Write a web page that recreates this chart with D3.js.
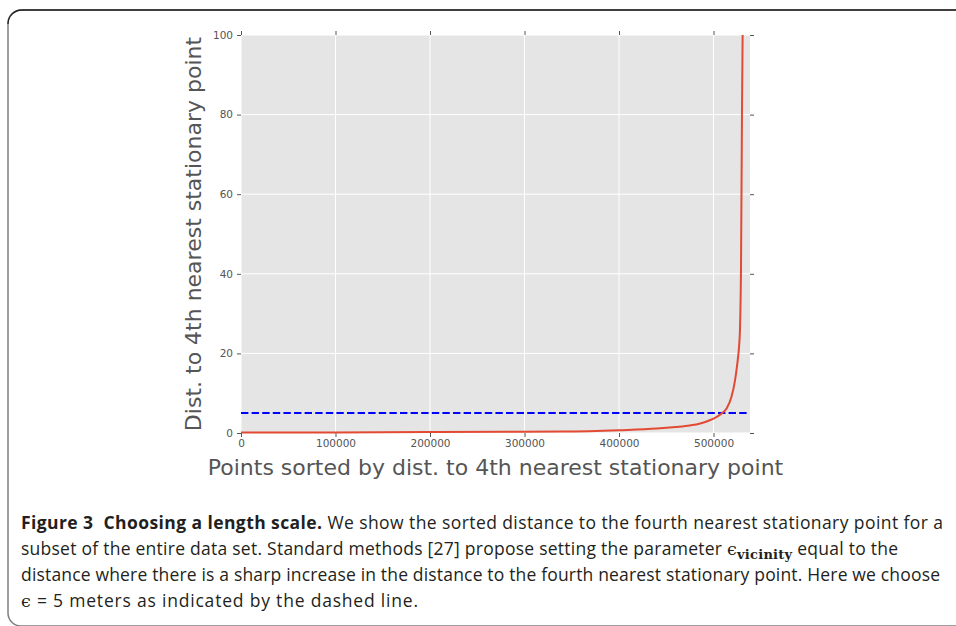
<!DOCTYPE html>
<html>
<head>
<meta charset="utf-8">
<script src="https://cdn.jsdelivr.net/npm/d3@7"></script>
<style>
  body { margin: 0; background: #fff; }
  svg { display: block; }
  .tick-label { font-family: "DejaVu Sans", sans-serif; font-size: 10.5px; fill: #555; }
  .axis-title { font-family: "DejaVu Sans", sans-serif; font-size: 22px; fill: #555; }
  .caption { font-family: "Open Sans", sans-serif; font-size: 17.5px; fill: #231f20; }
</style>
</head>
<body>
<div id="chart"></div>
<script>
// Sorted distance to the 4th nearest stationary point
var pointIndex = [0, 100000, 200000, 300000, 340000, 400000, 440000, 460000,
  475000, 486000, 496000, 503000, 508000, 514000, 519000, 522800, 525200,
  527000, 528000, 529100, 530100, 530800];
var distance = [0.1, 0.15, 0.22, 0.3, 0.35, 0.7, 1.1, 1.5,
  1.9, 2.4, 3.2, 4.0, 4.8, 6.2, 9.1, 13.3, 17.5,
  21.7, 26, 42, 80, 100];

// Chosen length scale (dashed line)
var epsilon = 5;

// Tick values for both axes
var xTicks = [0, 100000, 200000, 300000, 400000, 500000];
var yTicks = [0, 20, 40, 60, 80, 100];

var width = 956,
  height = 626;

// Plot box inside the page
var margin = { top: 35, left: 241 },
  plotW = 509,
  plotH = 398;

var svg = d3.select("#chart")
  .append("svg")
  .attr("width", width)
  .attr("height", height);

// Rounded frame around the figure
svg.append("rect")
  .attr("x", 8)
  .attr("y", 10)
  .attr("width", 980)
  .attr("height", 616)
  .attr("rx", 13)
  .attr("fill", "none")
  .attr("stroke", "#808080")
  .attr("stroke-width", 1.5);
svg.append("path")
  .attr("d", "M8,24 A14,14 0 0 1 22,10 L956,10")
  .attr("fill", "none")
  .attr("stroke", "#231f20")
  .attr("stroke-width", 1.3);

var x = d3.scaleLinear().domain([0, 538600]).range([0, plotW]);
var y = d3.scaleLinear().domain([0, 100]).range([plotH, 0]);

var g = svg.append("g")
  .attr("transform", `translate(${margin.left}, ${margin.top})`);

// Grey panel
g.append("rect")
  .attr("width", plotW)
  .attr("height", plotH)
  .attr("fill", "#e5e5e5");

// White grid lines
g.selectAll(".vgrid")
  .data(xTicks)
  .enter()
  .append("line")
  .attr("x1", d => x(d))
  .attr("x2", d => x(d))
  .attr("y1", 0)
  .attr("y2", plotH)
  .attr("stroke", "#fff")
  .attr("stroke-width", 1);
g.selectAll(".hgrid")
  .data(yTicks)
  .enter()
  .append("line")
  .attr("y1", d => y(d))
  .attr("y2", d => y(d))
  .attr("x1", 0)
  .attr("x2", plotW)
  .attr("stroke", "#fff")
  .attr("stroke-width", 1);

// Axes: ticks outside on all four sides, no domain line
var tickLen = 4;
var bottomAxis = d3.axisBottom(x).tickValues(xTicks).tickSize(tickLen).tickPadding(3).tickFormat(d3.format("d"));
var topAxis = d3.axisTop(x).tickValues(xTicks).tickSize(tickLen).tickFormat("");
var leftAxis = d3.axisLeft(y).tickValues(yTicks).tickSize(tickLen).tickPadding(4).tickFormat(d3.format("d"));
var rightAxis = d3.axisRight(y).tickValues(yTicks).tickSize(tickLen).tickFormat("");

function styleAxis(sel) {
  sel.select(".domain").remove();
  sel.selectAll(".tick line").attr("stroke", "#555");
  sel.selectAll(".tick text").attr("class", "tick-label").attr("fill", null);
}

g.append("g").attr("transform", `translate(0, ${plotH})`).call(bottomAxis).call(styleAxis);
g.append("g").call(topAxis).call(styleAxis);
g.append("g").call(leftAxis).call(styleAxis);
g.append("g").attr("transform", `translate(${plotW}, 0)`).call(rightAxis).call(styleAxis);

// Dashed epsilon line
g.append("line")
  .attr("x1", 0)
  .attr("x2", plotW - 2)
  .attr("y1", y(epsilon))
  .attr("y2", y(epsilon))
  .attr("stroke", "#0000ff")
  .attr("stroke-width", 2)
  .attr("stroke-dasharray", "7.4,3.2");

// Sorted distance curve
var line = d3.line()
  .x((d, i) => x(pointIndex[i]))
  .y(d => y(d))
  .curve(d3.curveMonotoneX);

g.append("path")
  .datum(distance)
  .attr("d", line)
  .attr("fill", "none")
  .attr("stroke", "#e24a33")
  .attr("stroke-width", 2);

// Axis titles
svg.append("text")
  .attr("class", "axis-title")
  .attr("x", margin.left + plotW / 2)
  .attr("y", 475)
  .attr("text-anchor", "middle")
  .text("Points sorted by dist. to 4th nearest stationary point");

svg.append("text")
  .attr("class", "axis-title")
  .attr("transform", `translate(201, ${margin.top + plotH / 2}) rotate(-90)`)
  .attr("text-anchor", "middle")
  .text("Dist. to 4th nearest stationary point");

// Caption below the figure
var cap = svg.append("g").attr("class", "caption");

var l1 = cap.append("text").attr("x", 21).attr("y", 529)
  .attr("textLength", 922).attr("lengthAdjust", "spacing");
l1.append("tspan").attr("font-weight", "bold").text("Figure 3\u00a0\u00a0Choosing a length scale.");
l1.append("tspan").text(" We show the sorted distance to the fourth nearest stationary point for a");

var l2 = cap.append("text").attr("x", 21).attr("y", 555)
  .attr("textLength", 877).attr("lengthAdjust", "spacing");
l2.append("tspan").text("subset of the entire data set. Standard methods [27] propose setting the parameter\u00a0");
l2.append("tspan").attr("font-family", "DejaVu Serif, serif").text("\u03f5");
l2.append("tspan").attr("font-family", "DejaVu Serif, serif").attr("font-weight", "bold")
  .attr("font-size", "13px").attr("dy", 4).text("vicinity");
l2.append("tspan").attr("dy", -4).text("\u00a0equal to the");

cap.append("text").attr("x", 21).attr("y", 581)
  .attr("textLength", 919).attr("lengthAdjust", "spacing")
  .text("distance where there is a sharp increase in the distance to the fourth nearest stationary point. Here we choose");

var l4 = cap.append("text").attr("x", 21).attr("y", 607)
  .attr("textLength", 397).attr("lengthAdjust", "spacing");
l4.append("tspan").attr("font-family", "DejaVu Serif, serif").text("\u03f5");
l4.append("tspan").text(" = 5 meters as indicated by the dashed line.");
</script>
</body>
</html>
